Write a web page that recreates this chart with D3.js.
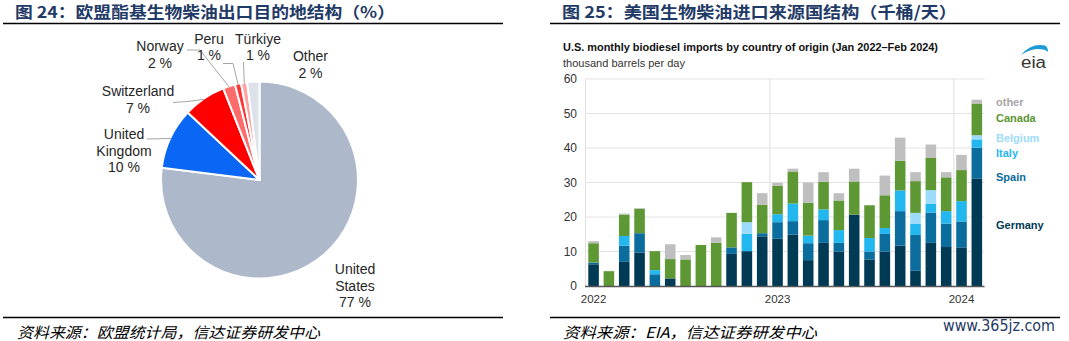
<!DOCTYPE html>
<html><head><meta charset="utf-8">
<script src="https://cdn.jsdelivr.net/npm/d3@7"></script>
<style>
html,body{margin:0;padding:0;background:#fff;}
svg{display:block;font-family:"Liberation Sans",Arial,sans-serif;}
</style></head>
<body><svg id="c" width="1069" height="341"></svg>
<script>
// ---------- Pie data (Figure 24) ----------
const pieCategories = ["United States","United Kingdom","Switzerland","Norway","Peru","Türkiye","Other"];
const pieValues = [77, 10, 7, 2, 1, 1, 2];
const pieColors = ["#adb9cb","#0a66f5","#ff0000","#ff6b6b","#ff3535","#ffa3a3","#dde2ea"];

// ---------- Bar data (Figure 25) ----------
const months = ["2022-01","2022-02","2022-03","2022-04","2022-05","2022-06","2022-07","2022-08","2022-09","2022-10","2022-11","2022-12",
  "2023-01","2023-02","2023-03","2023-04","2023-05","2023-06","2023-07","2023-08","2023-09","2023-10","2023-11","2023-12",
  "2024-01","2024-02"];
const germany = [6.3,0,7.0,9.7,0,2.2,0,0,0,9.3,10.1,14.4, 13.7,14.9,7.5,12.5,10.0,20.7,7.7,10.0,11.7,4.4,12.5,11.3, 11.2,31.2];
const spain   = [0.5,0,4.7,5.6,3.4,0,0,0,0,1.9,0,0.9, 4.8,3.9,4.9,6.6,2.5,0,2.3,5.1,10.0,10.4,8.8,6.8, 7.5,8.9];
const italy   = [0,0,2.8,0,1.2,0,0,0,0,0,5.0,0, 2.3,5.1,2.2,3.1,3.7,0,3.9,1.7,6.0,3.3,2.5,3.6, 5.9,2.4];
const belgium = [0,0,0,0,0,0,0,0,0,0,3.4,0, 0,0,0,0,0,0,0,0,0,3.1,4.0,0, 0,1.2];
const canada  = [5.6,4.3,6.2,7.1,5.5,5.6,7.7,11.9,12.5,10.0,11.6,8.3, 8.2,9.3,9.5,8.0,8.6,9.6,9.5,9.5,8.6,9.2,9.3,9.8, 9.0,9.2];
const other   = [0.6,0,0.3,0.2,0,4.3,1.3,0,1.6,0,0,3.3, 0.9,0.8,5.9,2.8,2.1,3.7,0,5.7,6.7,2.6,3.9,1.5, 4.4,1.1];
const seriesNames = ["Germany","Spain","Italy","Belgium","Canada","other"];
const seriesColors = ["#003a55","#0a6d9e","#23b7ef","#9cdcfa","#5e9834","#bfbfbf"];
const legendTextColors = ["#003a55","#0b6b9c","#28b6f0","#9ddcf9","#5b9532","#a6a6a6"];
const legendAt = [17.7,31.6,38.6,43.0,48.8,53.3];
const yTicks = [0,10,20,30,40,50,60];
const yearTicks = ["2022-01","2023-01","2024-01"];
const yearLabels = ["2022","2023","2024"];

const svg = d3.select("#c");

// ---------- Headers / footers ----------
function header(x, text, lineX1, lineX2, width){
  svg.append("text").attr("x",x).attr("y",11).attr("dominant-baseline","central")
    .attr("font-family","'Noto Sans CJK SC','Liberation Sans',sans-serif").attr("font-weight","bold")
    .attr("font-size",16).attr("fill","#1f3a66")
    .attr("textLength",width).attr("lengthAdjust","spacingAndGlyphs").text(text);
  svg.append("line").attr("x1",lineX1).attr("x2",lineX2).attr("y1",23.5).attr("y2",23.5)
    .attr("stroke","#000").attr("stroke-width",1.5);
  svg.append("line").attr("x1",lineX1).attr("x2",lineX2).attr("y1",317.5).attr("y2",317.5)
    .attr("stroke","#000").attr("stroke-width",1.5);
}
header(15, "图 24：欧盟酯基生物柴油出口目的地结构（%）", 3, 503, 380);
header(562, "图 25：美国生物柴油进口来源国结构（千桶/天）", 550, 1060, 395);

function footer(x, text, width){
  svg.append("text").attr("x",x).attr("y",331).attr("dominant-baseline","central")
    .attr("font-family","'Noto Sans CJK SC',sans-serif").attr("font-style","italic")
    .attr("font-size",15).attr("fill","#000")
    .attr("textLength",width).attr("lengthAdjust","spacingAndGlyphs").text(text);
}
footer(17, "资料来源：欧盟统计局，信达证券研发中心", 303);
footer(563, "资料来源：EIA，信达证券研发中心", 254);
svg.append("text").attr("x",943).attr("y",326).attr("dominant-baseline","central")
  .attr("font-family","'DejaVu Sans',sans-serif").attr("font-size",15).attr("fill","#1f3a66")
  .attr("textLength",112).attr("lengthAdjust","spacingAndGlyphs").text("www.365jz.com");

// ---------- Pie ----------
const cx = 259.5, cy = 180, r = 98.5;
const pie = d3.pie().sort(null).value(d => d)(pieValues);
const arc = d3.arc().innerRadius(0).outerRadius(r);
const pg = svg.append("g").attr("transform",`translate(${cx},${cy})`);
pg.selectAll("path").data(pie).join("path")
  .attr("d",arc).attr("fill",(d,i)=>pieColors[i])
  .attr("stroke","#fff").attr("stroke-width",2).attr("stroke-linejoin","round");

// leader lines
const edge = (i, k=1) => { const a=(pie[i].startAngle+pie[i].endAngle)/2; return [cx+Math.sin(a)*r*k, cy-Math.cos(a)*r*k]; };
const leaders = [
  {i:1, pts:[[147,139],[168,138.5]]},
  {i:2, pts:[[173,102.5],[187,101.5]]},
  {i:3, pts:[[187,50],[200,50]]},
  {i:4, pts:[[223,63.5],[233,63.5]]},
  {i:5, pts:[[243.5,62]]}
];
leaders.forEach(l=>{
  const p = l.pts.concat([edge(l.i,0.99)]);
  svg.append("path").attr("d",d3.line()(p)).attr("fill","none").attr("stroke","#a6a6a6").attr("stroke-width",1);
});

const pieLabels = [
  {i:0, x:355, y:269, lines:["United","States"]},
  {i:1, x:124, y:134, lines:["United","Kingdom"]},
  {i:2, x:138, y:91, lines:["Switzerland"]},
  {i:3, x:160, y:46, lines:["Norway"]},
  {i:4, x:209, y:38.5, lines:["Peru"]},
  {i:5, x:258, y:38.5, lines:["Türkiye"]},
  {i:6, x:310.5, y:56, lines:["Other"]}
];
pieLabels.forEach(l=>{
  const t = svg.append("text").attr("text-anchor","middle").attr("font-size",14).attr("fill","#262626");
  const all = l.lines.concat([pieValues[l.i] + " %"]);
  all.forEach((s,k)=>{
    t.append("tspan").attr("x",l.x).attr("y",l.y + k*16.5).attr("dominant-baseline","central").text(s);
  });
});

// ---------- Bar chart ----------
const x = d3.scaleBand().domain(months).range([585.9,984.5]).paddingInner(0.31).paddingOuter(0.155);
const y = d3.scaleLinear().domain([0,60]).range([286,79]);
const step = x.step();
const bandStart = m => x(m) - step*0.155;

// chart title/subtitle
svg.append("text").attr("x",563).attr("y",47).attr("dominant-baseline","central")
  .attr("font-size",11.5).attr("font-weight","bold").attr("fill","#111")
  .attr("textLength",375).attr("lengthAdjust","spacingAndGlyphs")
  .text("U.S. monthly biodiesel imports by country of origin (Jan 2022–Feb 2024)");
svg.append("text").attr("x",563).attr("y",63).attr("dominant-baseline","central")
  .attr("font-size",11.5).attr("fill","#333")
  .attr("textLength",122).attr("lengthAdjust","spacingAndGlyphs")
  .text("thousand barrels per day");

// eia logo
svg.append("path").attr("d","M1021,55 Q1031,43 1045,45.5 Q1048,47 1048,52 Q1045,48.5 1036,49 Q1027,50.5 1021,55 Z").attr("fill","#1e9bd7");
svg.append("text").attr("x",1021).attr("y",68).attr("font-size",16).attr("fill","#333")
  .attr("textLength",25).attr("lengthAdjust","spacingAndGlyphs").text("eia");

// gridlines
const gg = svg.append("g");
gg.selectAll("line.h").data(yTicks.filter(d=>d>0)).join("line")
  .attr("x1",585).attr("x2",984.5).attr("y1",d=>y(d)).attr("y2",d=>y(d))
  .attr("stroke","#e3e3e3").attr("stroke-width",1.2);
gg.append("line").attr("x1",585.5).attr("x2",585.5).attr("y1",y(60)).attr("y2",y(0)).attr("stroke","#e3e3e3").attr("stroke-width",1.2);
gg.selectAll("line.v").data(yearTicks.slice(1)).join("line")
  .attr("x1",d=>bandStart(d)).attr("x2",d=>bandStart(d)).attr("y1",y(60)).attr("y2",y(0))
  .attr("stroke","#e3e3e3").attr("stroke-width",1.2);

// stacked bars
const table = months.map((m,i)=>({month:m, Germany:germany[i], Spain:spain[i], Italy:italy[i], Belgium:belgium[i], Canada:canada[i], other:other[i]}));
const stack = d3.stack().keys(seriesNames)(table);
svg.append("g").selectAll("g").data(stack).join("g").attr("fill",(d,i)=>seriesColors[i])
  .selectAll("rect").data(d=>d).join("rect")
  .attr("x",d=>x(d.data.month)).attr("width",x.bandwidth())
  .attr("y",d=>y(d[1])).attr("height",d=>Math.max(0,y(d[0])-y(d[1])));

// baseline
svg.append("line").attr("x1",585).attr("x2",984.5).attr("y1",y(0)+0.5).attr("y2",y(0)+0.5).attr("stroke","#555").attr("stroke-width",1.4);

// y axis labels
const yAxis = d3.axisLeft(y).tickValues(yTicks).tickSize(0).tickPadding(0);
const ya = svg.append("g").attr("transform","translate(577,0)").call(yAxis);
ya.select(".domain").remove();
ya.selectAll("text").attr("font-family","'Liberation Sans',Arial,sans-serif").attr("font-size",12).attr("fill","#333");

// x axis year labels
const xAxis = d3.axisBottom(x).tickValues(yearTicks).tickFormat((d,i)=>yearLabels[i]).tickSize(0).tickPadding(0);
const xa = svg.append("g").attr("transform","translate(0,295)").call(xAxis);
xa.select(".domain").remove();
xa.selectAll("text").attr("font-family","'Liberation Sans',Arial,sans-serif").attr("font-size",11.5).attr("fill","#333");

// legend labels
seriesNames.forEach((n,i)=>{
  svg.append("text").attr("x",996).attr("y",y(legendAt[i])).attr("dominant-baseline","central")
    .attr("font-size",11).attr("font-weight","bold").attr("fill",legendTextColors[i]).text(n);
});
</script></body></html>
